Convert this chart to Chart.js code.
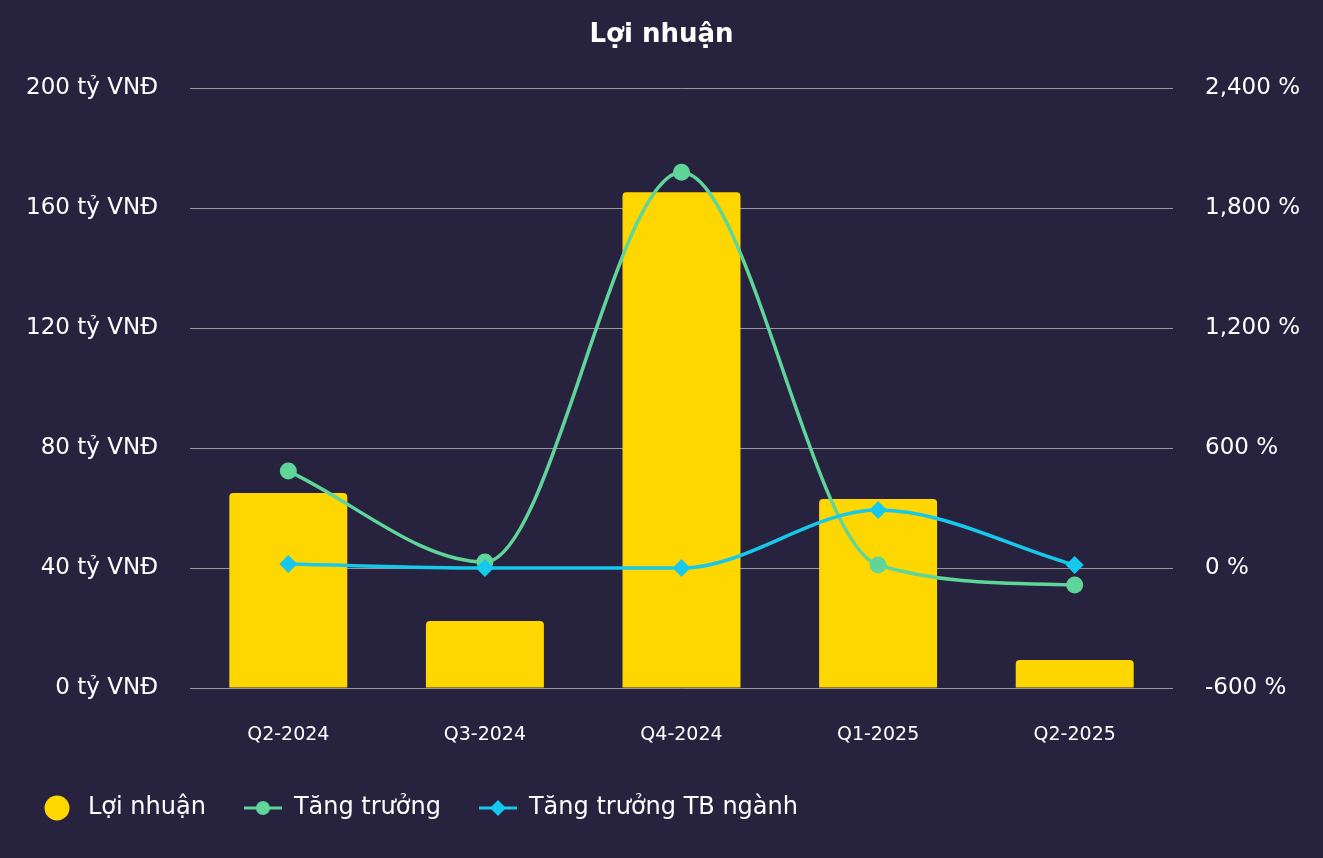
<!DOCTYPE html>
<html>
<head>
<meta charset="utf-8">
<script src="https://cdn.jsdelivr.net/npm/chart.js@4.4.1/dist/chart.umd.min.js"></script>
<style>
  html, body { margin: 0; padding: 0; background: #27233f; }
  #wrap { width: 1323px; height: 858px; }
</style>
</head>
<body>
<div id="wrap"><canvas id="chart"></canvas></div>
<script>
const quarters = ['Q2-2024', 'Q3-2024', 'Q4-2024', 'Q1-2025', 'Q2-2025'];
const profit = [65, 22.3, 165.3, 63, 9.3];          // tỷ VNĐ
const growth = [485, 30, 1980, 15, -85];            // %
const industryGrowth = [20, 0, 0, 290, 15];         // %

const YELLOW = '#ffd700';
const GREEN = '#5fd59a';
const CYAN = '#16c8ec';
const FONT = "'DejaVu Sans', sans-serif";

// legend markers (line + point) drawn on small canvases
function makeMarker(kind, color) {
  const c = document.createElement('canvas');
  const g = c.getContext('2d');
  if (kind === 'bar') {
    c.width = 26; c.height = 26;
    g.fillStyle = color;
    g.beginPath();
    g.arc(13, 13, 12.5, 0, Math.PI * 2);
    g.fill();
    return c;
  }
  c.width = 38; c.height = 18;
  g.strokeStyle = color;
  g.fillStyle = color;
  g.lineWidth = 3;
  g.beginPath();
  g.moveTo(0, 9); g.lineTo(38, 9);
  g.stroke();
  g.beginPath();
  if (kind === 'circle') {
    g.arc(19, 9, 7, 0, Math.PI * 2);
  } else {
    g.moveTo(19, 1); g.lineTo(27, 9); g.lineTo(19, 17); g.lineTo(11, 9);
    g.closePath();
  }
  g.fill();
  return c;
}
const markers = [makeMarker('bar', YELLOW), makeMarker('circle', GREEN), makeMarker('diamond', CYAN)];

const ctx = document.getElementById('chart');

new Chart(ctx, {
  data: {
    labels: quarters,
    datasets: [
      {
        type: 'bar',
        label: 'Lợi nhuận',
        data: profit,
        backgroundColor: YELLOW,
        borderRadius: 4,
        borderSkipped: 'bottom',
        barPercentage: 0.75,
        categoryPercentage: 0.8,
        yAxisID: 'y',
        order: 2
      },
      {
        type: 'line',
        label: 'Tăng trưởng',
        data: growth,
        borderColor: GREEN,
        backgroundColor: GREEN,
        borderWidth: 3.5,
        cubicInterpolationMode: 'monotone',
        pointRadius: 8.5,
        pointStyle: 'circle',
        pointBorderWidth: 0,
        yAxisID: 'y1',
        order: 1
      },
      {
        type: 'line',
        label: 'Tăng trưởng TB ngành',
        data: industryGrowth,
        borderColor: CYAN,
        backgroundColor: CYAN,
        borderWidth: 3.5,
        cubicInterpolationMode: 'monotone',
        pointRadius: 9,
        pointStyle: 'rectRot',
        pointBorderWidth: 0,
        yAxisID: 'y1',
        order: 0
      }
    ]
  },
  options: {
    responsive: true,
    maintainAspectRatio: false,
    animation: false,
    layout: { padding: { left: 0, right: 0, top: 0, bottom: 28 } },
    scales: {
      x: {
        grid: { display: false },
        border: { display: false },
        ticks: {
          color: '#ffffff',
          padding: 28,
          font: { family: FONT, size: 19 }
        },
        afterFit: scale => { scale.height = 70; }
      },
      y: {
        position: 'left',
        min: 0,
        max: 200,
        ticks: {
          stepSize: 40,
          color: '#ffffff',
          padding: 32,
          font: { family: FONT, size: 23 },
          callback: v => v + ' tỷ VNĐ'
        },
        grid: { color: 'rgba(190,190,190,0.75)', lineWidth: 1, drawTicks: false },
        border: { display: false },
        afterFit: scale => { scale.width = 190; }
      },
      y1: {
        position: 'right',
        min: -600,
        max: 2400,
        ticks: {
          stepSize: 600,
          color: '#ffffff',
          padding: 32,
          font: { family: FONT, size: 23 },
          callback: v => v.toLocaleString('en-US') + ' %'
        },
        grid: { display: false, drawTicks: false },
        border: { display: false },
        afterFit: scale => { scale.width = 150; }
      }
    },
    plugins: {
      title: {
        display: true,
        text: 'Lợi nhuận',
        color: '#ffffff',
        font: { family: FONT, size: 26, weight: 'bold' },
        padding: { top: 20, bottom: 37 }
      },
      legend: {
        position: 'bottom',
        align: 'start',
        labels: {
          color: '#ffffff',
          font: { family: FONT, size: 24 },
          usePointStyle: true,
          pointStyleWidth: 38,
          padding: 38,
          sort: (a, b) => a.datasetIndex - b.datasetIndex,
          generateLabels: chart => {
            const items = Chart.defaults.plugins.legend.labels.generateLabels(chart);
            items.forEach(item => { item.pointStyle = markers[item.datasetIndex]; });
            return items;
          }
        }
      },
      tooltip: { enabled: false }
    }
  }
});
</script>
</body>
</html>
